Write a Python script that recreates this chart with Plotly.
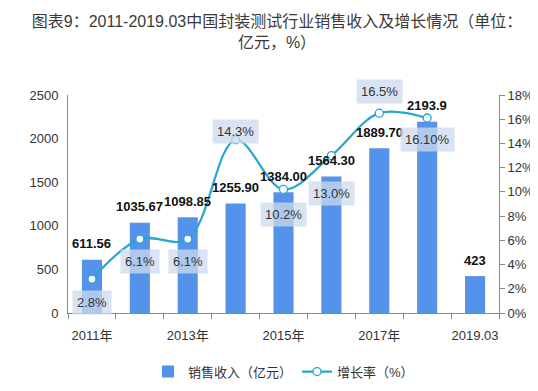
import plotly.graph_objects as go

categories = ["2011年", "2012年", "2013年", "2014年", "2015年", "2016年", "2017年", "2018年", "2019.03"]
tick_labels = ["2011年", "", "2013年", "", "2015年", "", "2017年", "", "2019.03"]
sales = [611.56, 1035.67, 1098.85, 1255.90, 1384.00, 1564.30, 1889.70, 2193.9, 423]
sales_labels = ["611.56", "1035.67", "1098.85", "1255.90", "1384.00", "1564.30", "1889.70", "2193.9", "423"]
growth = [2.8, 6.1, 6.1, 14.3, 10.2, 13.0, 16.5, 16.1]
growth_labels = ["2.8%", "6.1%", "6.1%", "14.3%", "10.2%", "13.0%", "16.5%", "16.10%"]
growth_label_shift = [-23, -22, -22, 8, -25, -38, 22, -21]

FONT = "Arial, 'Liberation Sans', 'Noto Sans CJK SC', sans-serif"
BAR_COLOR = "#5592EA"
LINE_COLOR = "#27A6CF"

xpos = list(range(len(categories)))
gpos = xpos[:len(growth)]

fig = go.Figure()
fig.add_trace(go.Bar(
    x=xpos, y=sales, name="销售收入（亿元）",
    marker=dict(color=BAR_COLOR, line=dict(width=0)),
    yaxis="y",
))
fig.add_trace(go.Scatter(
    x=gpos, y=growth, name="增长率（%）",
    mode="lines+markers",
    line=dict(color=LINE_COLOR, width=2.2, shape="spline", smoothing=1.0),
    marker=dict(size=8, color="white", line=dict(color=LINE_COLOR, width=1.3)),
    yaxis="y2",
))

annotations = []
for p, v, t in zip(xpos, sales, sales_labels):
    annotations.append(dict(
        x=p, y=v, xref="x", yref="y", text=t, showarrow=False,
        yanchor="middle", yshift=16,
        font=dict(family=FONT, size=13, color="#111111", weight="bold"),
    ))
for p, v, t, s in zip(gpos, growth, growth_labels, growth_label_shift):
    annotations.append(dict(
        x=p, y=v, xref="x", yref="y2", text=t, showarrow=False,
        yanchor="middle", yshift=s,
        bgcolor="rgba(205,218,236,0.75)", borderpad=4,
        font=dict(family=FONT, size=13, color="#333333"),
    ))

boundaries = [i - 0.5 for i in range(len(categories) + 1)]

fig.update_layout(
    width=538, height=391,
    margin=dict(l=60, r=47, t=87, b=73),
    paper_bgcolor="white", plot_bgcolor="white",
    font=dict(family=FONT, size=13, color="#333333"),
    title=dict(
        text="图表9：2011-2019.03中国封装测试行业销售收入及增长情况（单位：<br>亿元，%）",
        x=0.5, xanchor="center", y=0.952, yanchor="top",
        font=dict(family=FONT, size=16, color="#3a3a3a"),
    ),
    bargap=0.58,
    showlegend=True,
    legend=dict(orientation="h", x=0.5, xanchor="center", y=-0.2, yanchor="top",
                font=dict(family=FONT, size=13, color="#333333"),
                itemwidth=30),
    xaxis=dict(
        range=[-0.5, len(categories) - 0.5],
        showgrid=False, showline=True, linecolor="#888888", linewidth=1,
        zeroline=False,
        tickmode="array", tickvals=xpos, ticktext=tick_labels,
        ticks="", ticklen=0, ticklabelstandoff=10,
        minor=dict(tickmode="array", tickvals=boundaries, ticks="outside", ticklen=5,
                   tickcolor="#888888", showgrid=False),
        tickfont=dict(family=FONT, size=13, color="#333333"),
    ),
    yaxis=dict(
        range=[0, 2500], dtick=500, showgrid=False, showline=True, linecolor="#888888",
        linewidth=1, ticks="", zeroline=False, ticklabelstandoff=6,
        tickfont=dict(family=FONT, size=13, color="#333333"),
    ),
    yaxis2=dict(
        range=[0, 18], dtick=2, overlaying="y", side="right", showgrid=False,
        showline=True, linecolor="#888888", linewidth=1, ticks="outside", ticklen=5,
        tickcolor="#888888", ticksuffix="%", zeroline=False,
        tickfont=dict(family=FONT, size=13, color="#333333"),
    ),
    annotations=annotations,
)

fig.write_html("out.html")
